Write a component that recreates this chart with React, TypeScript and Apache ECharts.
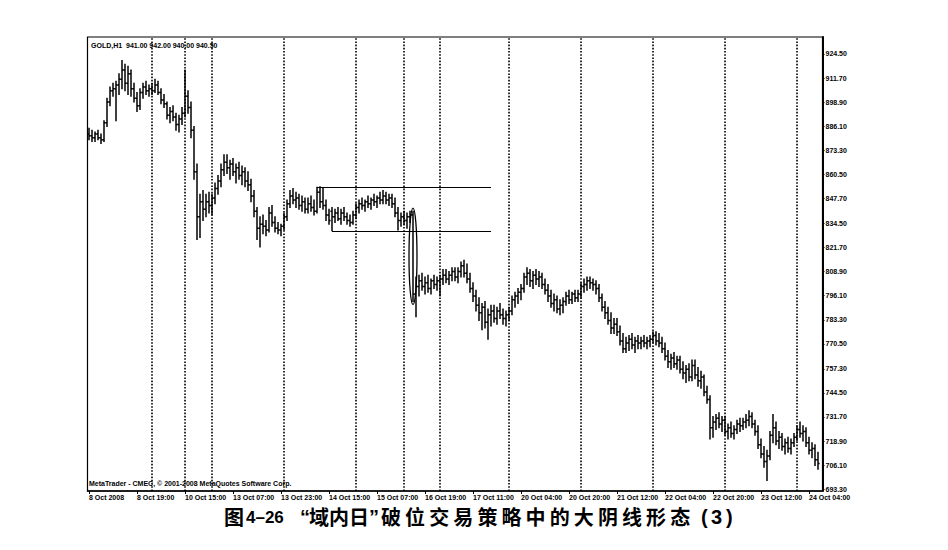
import React, { useEffect, useRef } from "react";
import * as echarts from "echarts";

// OHLC rows [open, high, low, close] per trading day (GOLD, H1)
const oct08 = [
  [882, 885, 879, 881], [881, 884, 878, 880], [880, 883, 878, 882], [882, 884, 879, 880],
  [880, 882, 877, 879], [879, 889, 878, 888], [888, 901, 886, 899], [899, 907, 897, 905],
  [905, 909, 902, 906], [906, 910, 889, 908], [908, 914, 903, 911], [911, 921, 906, 916],
  [916, 919, 905, 909], [909, 918, 903, 914], [914, 916, 902, 906], [906, 909, 899, 901],
  [901, 904, 894, 897], [897, 906, 895, 904], [904, 909, 901, 907], [907, 910, 903, 905],
  [905, 908, 902, 906],
];
const oct09 = [
  [906, 909, 903, 905], [905, 911, 904, 908], [908, 910, 903, 904], [904, 906, 898, 900],
  [900, 903, 896, 898], [898, 899, 890, 892], [892, 896, 888, 894], [894, 897, 889, 891],
  [891, 893, 884, 887], [887, 892, 883, 890], [890, 896, 887, 893],
];
const oct10 = [
  [893, 916, 891, 902], [902, 905, 893, 896], [896, 899, 880, 884], [884, 886, 858, 862],
  [862, 866, 826, 838], [838, 850, 827, 846], [846, 852, 836, 842], [842, 850, 838, 846],
  [846, 851, 840, 844],
];
const oct13 = [
  [844, 850, 839, 848], [848, 856, 845, 853], [853, 860, 850, 857], [857, 866, 854, 863],
  [863, 871, 860, 867], [867, 871, 861, 864], [864, 868, 858, 866], [866, 869, 860, 862],
  [862, 866, 856, 864], [864, 867, 858, 860], [860, 865, 855, 862], [862, 864, 854, 857],
  [857, 862, 852, 855], [855, 858, 846, 849], [849, 852, 838, 841], [841, 843, 826, 832],
  [832, 838, 822, 834], [834, 839, 829, 833], [833, 836, 828, 831], [831, 843, 830, 840],
  [840, 844, 833, 835], [835, 838, 830, 832], [832, 835, 829, 831], [831, 834, 828, 833],
];
const oct14 = [
  [833, 840, 831, 838], [838, 847, 836, 845], [845, 852, 843, 849], [849, 853, 845, 847],
  [847, 851, 843, 848], [848, 850, 842, 844], [844, 849, 841, 846], [846, 848, 840, 842],
  [842, 848, 840, 845], [845, 849, 841, 843], [843, 847, 839, 841], [841, 853.7, 840, 851],
  [851, 854, 843, 846], [846, 853, 842, 844], [844, 847, 836, 839], [839, 842, 834, 836],
  [841, 843, 830.6, 838], [838, 842, 835, 840], [840, 843, 836, 837], [837, 842, 834, 840],
  [840, 843, 836, 838], [838, 840, 834, 836], [836, 839, 833, 835], [835, 841, 834, 839],
];
const oct15 = [
  [839, 845, 837, 843], [843, 847, 840, 845], [845, 848, 842, 844], [844, 847, 841, 846],
  [846, 849, 843, 845], [845, 848, 842, 847], [847, 850, 844, 846], [846, 849, 843, 848],
  [848, 851, 845, 847], [847, 852, 845, 849], [849, 851, 845, 847], [847, 850, 844, 848],
  [848, 850, 843, 845], [845, 848, 838, 840], [840, 843, 831, 836], [836, 840, 833, 838],
];
const oct16 = [
  [838, 841, 834, 836], [836, 840, 832, 838], [838, 841, 835, 839], [839, 841, 793, 797],
  [797, 806, 785, 801], [801, 807, 796, 804], [804, 808, 799, 801], [801, 806, 797, 803],
  [803, 807, 798, 800], [800, 805, 797, 804], [804, 807, 800, 802], [802, 806, 799, 804],
];
const oct17 = [
  [804, 807, 796, 805], [805, 810, 802, 807], [807, 810, 803, 805], [805, 809, 802, 807],
  [807, 811, 804, 809], [809, 811, 804, 806], [806, 811, 803, 809], [809, 814, 806, 812],
  [812, 815, 806, 808], [808, 813, 803, 805], [805, 808, 798, 800], [800, 803, 793, 796],
  [796, 799, 788, 791], [791, 795, 783, 787], [787, 792, 778, 790], [790, 793, 779, 782],
  [782, 789, 773, 786], [786, 791, 780, 788], [788, 791, 782, 784], [784, 790, 781, 788],
  [788, 792, 784, 786], [786, 789, 781, 784], [784, 788, 780, 786],
];
const oct20 = [
  [786, 790, 783, 788], [788, 796, 786, 794], [794, 798, 790, 796], [796, 800, 792, 798],
  [798, 802, 794, 800], [800, 808, 798, 806], [806, 811, 802, 808], [808, 810, 801, 804],
  [804, 809, 800, 807], [807, 810, 802, 805], [805, 809, 801, 806], [806, 808, 800, 802],
  [802, 805, 797, 799], [799, 802, 793, 796], [796, 799, 790, 792], [792, 797, 788, 794],
  [794, 796, 787, 789], [789, 794, 786, 791], [791, 795, 787, 793], [793, 798, 791, 796],
  [796, 799, 792, 794], [794, 798, 792, 797], [797, 799, 793, 795], [795, 799, 793, 797],
];
const oct21 = [
  [797, 803, 795, 801], [801, 805, 798, 802], [802, 806, 799, 804], [804, 806, 800, 803],
  [803, 805, 799, 802], [802, 804, 797, 800], [800, 802, 793, 795], [795, 797, 788, 790],
  [790, 793, 784, 787], [787, 790, 781, 783], [783, 787, 776, 779], [779, 784, 776, 781],
  [781, 784, 775, 777], [777, 780, 770, 772], [772, 776, 766, 768], [768, 774, 766, 771],
  [771, 775, 767, 773], [773, 776, 768, 770], [770, 774, 766, 772], [772, 775, 768, 771],
  [771, 774, 768, 772], [772, 775, 769, 771], [771, 774, 768, 772], [772, 775, 769, 773],
];
const oct22 = [
  [773, 777, 771, 775], [775, 777, 770, 772], [772, 776, 769, 771], [771, 774, 766, 768],
  [768, 771, 762, 764], [764, 767, 758, 761], [761, 765, 757, 763], [763, 766, 758, 760],
  [760, 764, 757, 762], [762, 764, 755, 757], [757, 761, 752, 755], [755, 759, 750, 757],
  [757, 760, 751, 753], [753, 762, 751, 759], [759, 762, 752, 754], [754, 758, 748, 751],
  [751, 756, 747, 753], [753, 754, 743, 745], [745, 748, 739, 741], [741, 743, 720, 726],
  [726, 732, 721, 729], [729, 733, 725, 731], [731, 734, 726, 728], [728, 732, 724, 730],
];
const oct23 = [
  [730, 732, 722, 724], [724, 728, 720, 726], [726, 729, 721, 723], [723, 727, 720, 725],
  [725, 730, 723, 728], [728, 731, 724, 727], [727, 731, 725, 729], [729, 733, 726, 730],
  [730, 735, 727, 732], [732, 734, 726, 728], [728, 730, 722, 724], [724, 727, 715, 717],
  [717, 720, 710, 712], [712, 716, 705, 708], [708, 714, 698, 711], [711, 724, 709, 722],
  [722, 733, 718, 726], [726, 729, 717, 719], [719, 724, 715, 721], [721, 723, 714, 716],
  [716, 720, 712, 718], [718, 721, 713, 715], [715, 720, 712, 718], [718, 723, 716, 721],
];
const oct24 = [
  [721, 727, 719, 725], [725, 729, 721, 723], [723, 727, 719, 724], [724, 726, 716, 718],
  [718, 721, 712, 714], [714, 718, 710, 715], [715, 717, 706, 709], [709, 713, 704, 707],
];

const days = [oct08, oct09, oct10, oct13, oct14, oct15, oct16, oct17, oct20, oct21, oct22, oct23, oct24];

// time-axis labels: every 16 bars
const timeLabels = [
  "8 Oct 2008", "8 Oct 19:00", "10 Oct 15:00", "13 Oct 07:00", "13 Oct 23:00", "14 Oct 15:00",
  "15 Oct 07:00", "16 Oct 19:00", "17 Oct 11:00", "20 Oct 04:00", "20 Oct 20:00", "21 Oct 12:00",
  "22 Oct 04:00", "22 Oct 20:00", "23 Oct 12:00", "24 Oct 04:00",
];
const labelStep = 16;

// price-scale labels
const priceTicks = [
  693.3, 706.1, 718.9, 731.7, 744.5, 757.3, 770.5, 783.3, 796.1, 808.9,
  821.7, 834.5, 847.7, 860.5, 873.3, 886.1, 898.9, 911.7, 924.5,
];

const headerText = "GOLD,H1  941.00 942.00 940.00 940.50";
const footerText = "MetaTrader - CMEC, \u00A9 2001-2008 MetaQuotes Software Corp.";
const captionFigure = "图";
const captionNumber = "4–26";
const captionQuoted = "域内日";
const captionRest = "破位交易策略中的大阴线形态";
const captionIndex = "3";

// annotations (bar indices)
const motherBar = 76;     // high line starts here
const lowLineBar = 81;    // low line starts here
const boxEndBar = 134;
const bigBearBar = 108;

export default function App() {
  const ref = useRef<HTMLDivElement>(null);

  useEffect(() => {
    if (!ref.current) return;
    const chart = echarts.init(ref.current, null, { renderer: "svg" });

    const bars: number[][] = [];
    const separators: number[] = [];
    days.forEach((d, k) => {
      if (k > 0) separators.push(bars.length);
      d.forEach((r) => bars.push(r));
    });
    const ohlc = bars.map((r, i) => [i, r[0], r[1], r[2], r[3]]);
    const labelIdx = timeLabels.map((_, k) => k * labelStep);
    const labelMap: Record<number, string> = {};
    labelIdx.forEach((v, k) => (labelMap[v] = timeLabels[k]));

    const boxTop = bars[motherBar][1];
    const boxBottom = bars[lowLineBar][2];

    const smallFont = "Liberation Sans";
    const capFont = '"Noto Sans CJK SC"';
    const latFont = '"Liberation Sans"';

    const caption: any[] = [];
    const capY = 516;
    const t = (text: string, x: number, font: string, dy = 0) => ({
      type: "text",
      x,
      y: capY + dy,
      style: { text, font, fill: "#000", verticalAlign: "middle", textAlign: "left" },
    });
    const cjk = `bold 20px ${capFont}`;
    const lat = `bold 20px ${latFont}`;
    caption.push(t(captionFigure, 224, cjk));
    caption.push(t(captionNumber, 246, `bold 17px ${latFont}`, 1));
    caption.push(t("\u201C", 300, lat, 1));
    captionQuoted.split("").forEach((c, k) => caption.push(t(c, 309 + k * 20, cjk)));
    caption.push(t("\u201D", 369, lat, 1));
    captionRest.split("").forEach((c, k) => caption.push(t(c, 381 + k * 24.1, cjk)));
    caption.push(t("(", 701, lat, 1));
    caption.push(t(captionIndex, 711, lat, 1));
    caption.push(t(")", 726, lat, 1));

    const option: any = {
      animation: false,
      backgroundColor: "#fff",
      grid: {
        left: 87.5,
        top: 37,
        width: 735,
        height: 454,
        show: true,
        borderColor: "#000",
        borderWidth: 1.2,
        backgroundColor: "transparent",
      },
      xAxis: {
        type: "value",
        min: -0.5,
        max: 244.5,
        axisLine: { show: true, onZero: false, lineStyle: { color: "#000", width: 1.5 } },
        axisTick: { show: true, customValues: labelIdx, length: 3, lineStyle: { color: "#000" } },
        axisLabel: {
          customValues: labelIdx,
          formatter: (v: number) => labelMap[Math.round(v)] ?? "",
          align: "left",
          fontSize: 7,
          fontWeight: "bold",
          fontFamily: smallFont,
          color: "#000",
          margin: 3,
        },
        splitLine: { show: false },
      },
      yAxis: {
        type: "value",
        position: "right",
        min: 692.4,
        max: 933.5,
        axisLine: { show: true, onZero: false, lineStyle: { color: "#000", width: 2 } },
        axisTick: { show: true, customValues: priceTicks, length: 2, lineStyle: { color: "#000" } },
        axisLabel: {
          customValues: priceTicks,
          formatter: (v: number) => v.toFixed(2),
          fontSize: 7,
          fontWeight: "bold",
          fontFamily: smallFont,
          color: "#000",
          margin: 3,
        },
        splitLine: { show: false },
      },
      series: [
        {
          type: "custom",
          name: "GOLD,H1",
          clip: true,
          data: ohlc,
          encode: { x: 0, y: [1, 2, 3, 4] },
          renderItem: (_p: any, api: any) => {
            const i = api.value(0);
            const po = api.coord([i, api.value(1)]);
            const ph = api.coord([i, api.value(2)]);
            const pl = api.coord([i, api.value(3)]);
            const pc = api.coord([i, api.value(4)]);
            const st = { stroke: "#000", lineWidth: 1.5 };
            const x = po[0];
            return {
              type: "group",
              children: [
                { type: "line", shape: { x1: x, y1: ph[1] - 0.5, x2: x, y2: pl[1] + 0.5 }, style: st },
                { type: "line", shape: { x1: x - 1.6, y1: po[1], x2: x, y2: po[1] }, style: st },
                { type: "line", shape: { x1: x, y1: pc[1], x2: x + 1.6, y2: pc[1] }, style: st },
              ],
            };
          },
          markLine: {
            silent: true,
            symbol: ["none", "none"],
            label: { show: false },
            animation: false,
            data: [
              ...separators.map((s) => ({
                xAxis: s,
                lineStyle: { color: "#000", type: [1.6, 1.6], width: 1.6 },
              })),
              [
                { coord: [motherBar, boxTop], lineStyle: { color: "#000", type: "solid", width: 1.2 } },
                { coord: [boxEndBar, boxTop] },
              ],
              [
                { coord: [lowLineBar, boxBottom], lineStyle: { color: "#000", type: "solid", width: 1.2 } },
                { coord: [boxEndBar, boxBottom] },
              ],
            ],
          },
        },
        {
          type: "custom",
          name: "big bear",
          data: [[bigBearBar, bars[bigBearBar][1], bars[bigBearBar][2]]],
          encode: { x: 0, y: [1, 2] },
          renderItem: (_p: any, api: any) => {
            const i = api.value(0);
            const top = api.coord([i, api.value(1)]);
            const bot = api.coord([i, api.value(2)]);
            return {
              type: "ellipse",
              shape: {
                cx: top[0],
                cy: (top[1] + bot[1]) / 2,
                rx: 4,
                ry: (bot[1] - top[1]) / 2 + 3,
              },
              style: { fill: "none", stroke: "#000", lineWidth: 1.3 },
            };
          },
        },
      ],
      graphic: [
        {
          type: "text",
          x: 91,
          y: 45,
          style: { text: headerText, font: `bold 7px "${smallFont}"`, fill: "#000", verticalAlign: "middle" },
        },
        {
          type: "text",
          x: 89,
          y: 483,
          style: { text: footerText, font: `bold 7px "${smallFont}"`, fill: "#000", verticalAlign: "middle" },
        },
        ...caption,
      ],
    };

    chart.setOption(option);
    return () => chart.dispose();
  }, []);

  return (
    <div
      ref={ref}
      style={{ position: "fixed", left: 0, top: 0, width: 948, height: 550, background: "#fff" }}
    />
  );
}
